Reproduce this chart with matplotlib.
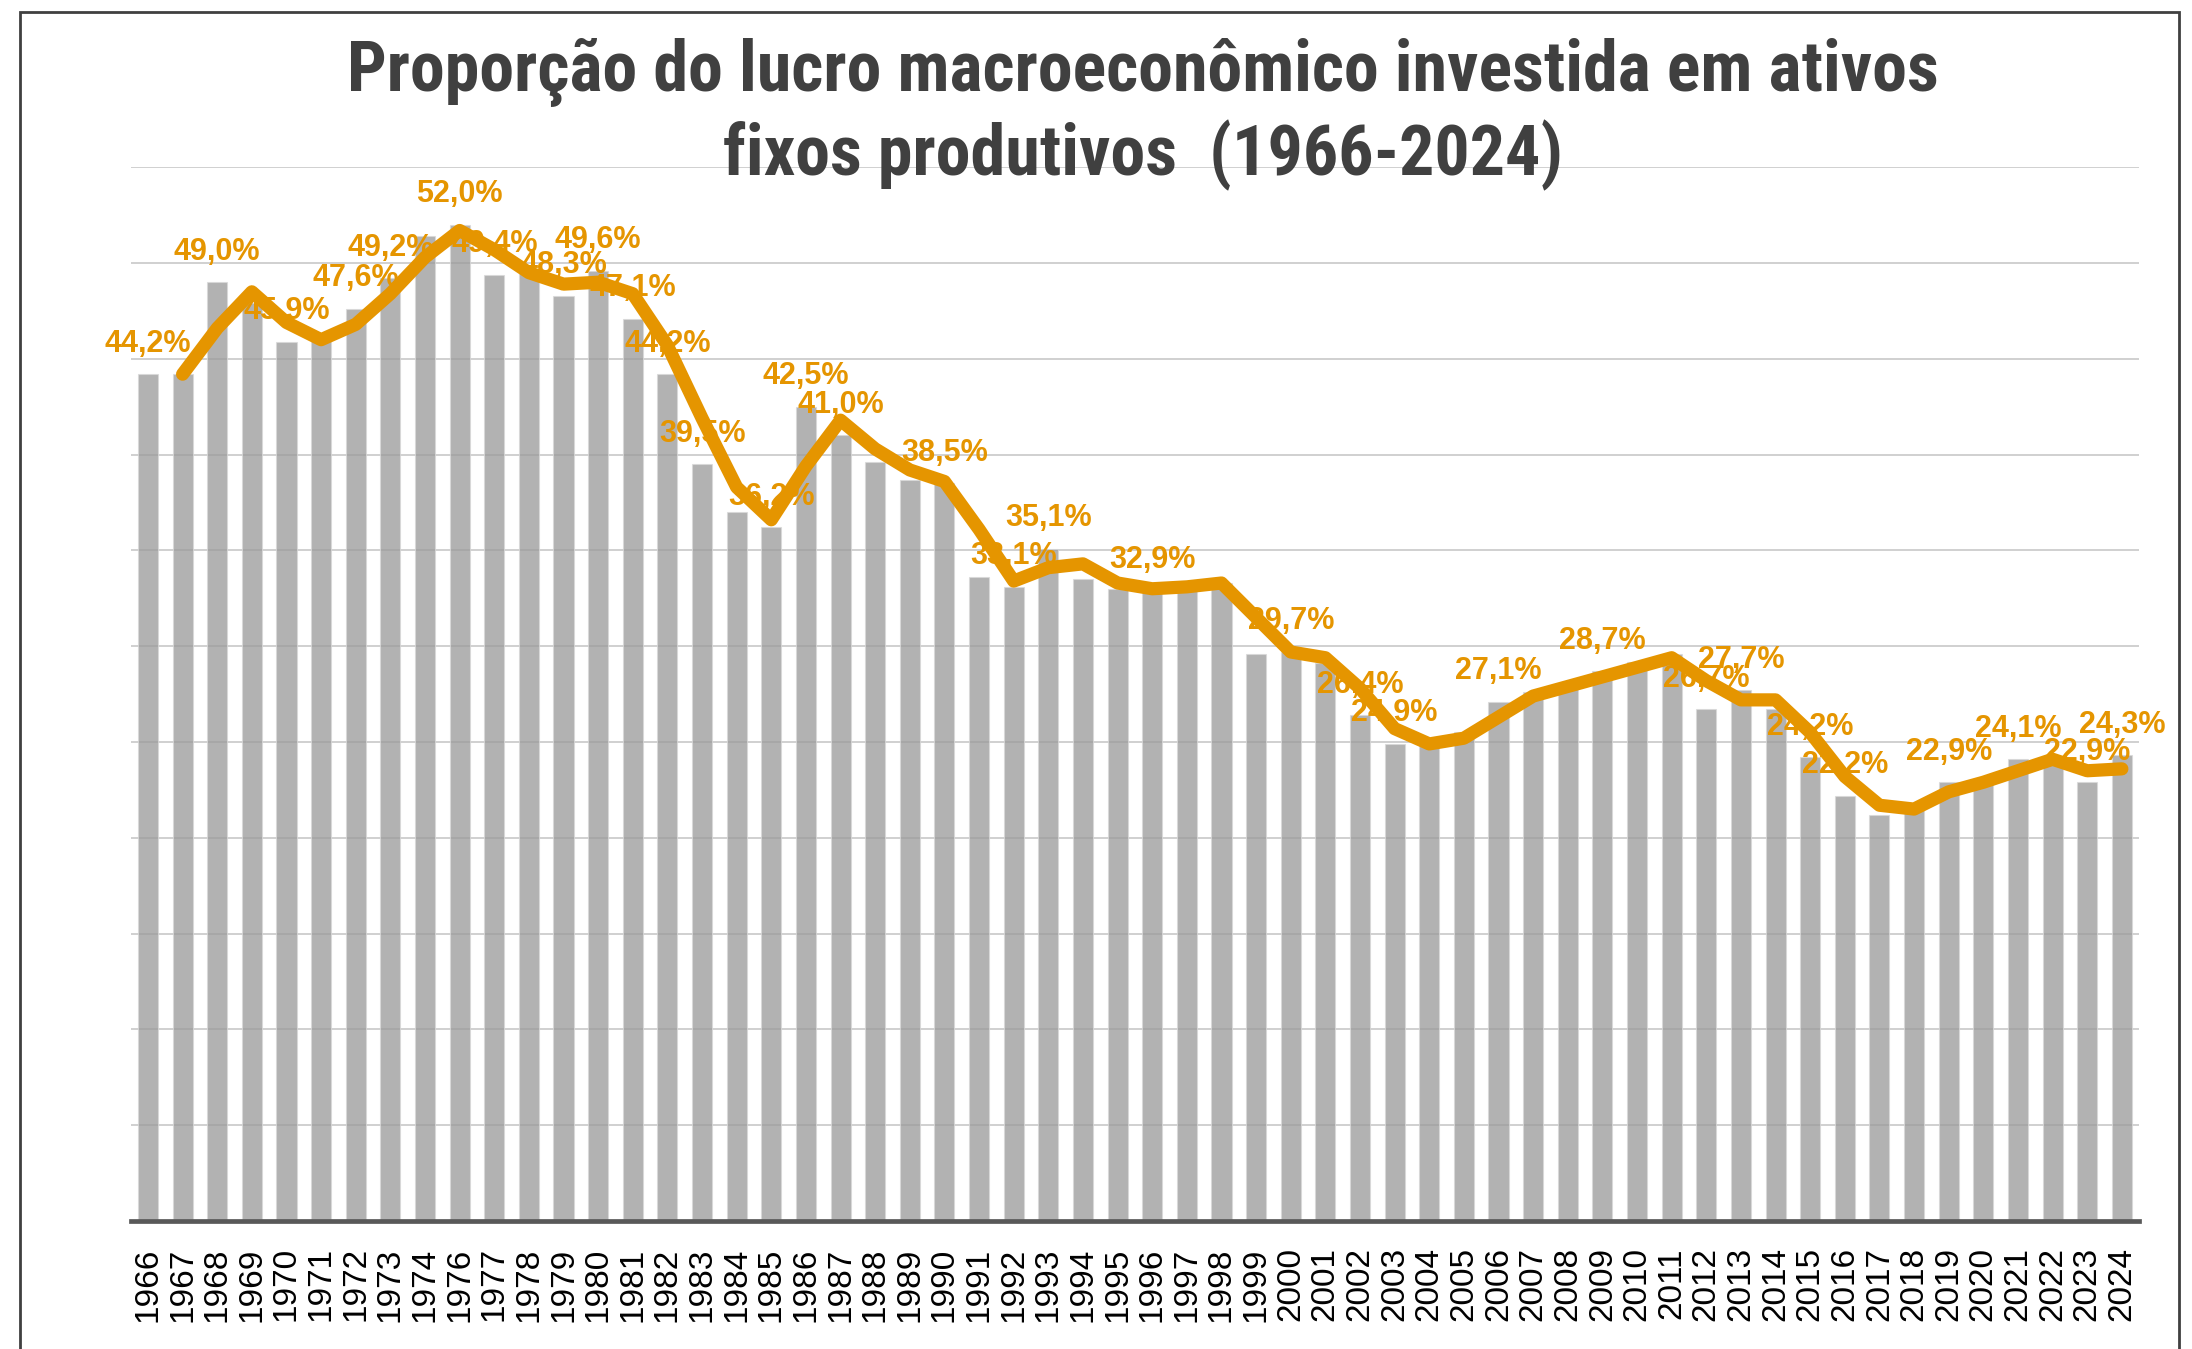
import matplotlib
matplotlib.use('Agg')
import matplotlib.pyplot as plt
from matplotlib import font_manager
from matplotlib.patches import Rectangle

# Anos (o eixo original pula 1975)
years = list(range(1966, 1975)) + list(range(1976, 2025))

# Proporção anual (%) - barras
share = [44.2, 44.2, 49.0, 47.9, 45.9, 46.0, 47.6, 49.2, 51.4,
         52.0, 49.4, 49.5, 48.3, 49.6, 47.1, 44.2, 39.5, 37.0, 36.2,
         42.5, 41.0, 39.6, 38.7, 38.5, 33.6, 33.1, 35.1, 33.5, 33.0,
         32.9, 33.2, 33.3, 29.6, 29.7, 29.1, 26.4, 24.9, 24.8, 25.5,
         27.1, 27.6, 28.1, 28.7, 29.2, 29.6, 26.7, 27.7, 26.7, 24.2,
         22.2, 21.2, 21.8, 22.9, 22.8, 24.1, 24.0, 22.9, 24.3]

# Média móvel de 2 períodos, de 1967 em diante
trend = [44.2, 46.6, 48.5, 46.9, 46.0, 46.8, 48.4, 50.3,
         51.7, 50.7, 49.5, 48.9, 49.0, 48.4, 45.7, 41.9, 38.3, 36.6,
         39.4, 41.8, 40.3, 39.2, 38.6, 36.1, 33.4, 34.1, 34.3, 33.3,
         33.0, 33.1, 33.3, 31.5, 29.7, 29.4, 27.8, 25.7, 24.9, 25.2,
         26.3, 27.4, 27.9, 28.4, 28.9, 29.4, 28.2, 27.2, 27.2, 25.5,
         23.2, 21.7, 21.5, 22.4, 22.9, 23.5, 24.1, 23.5, 23.6]

# Anos com rótulo de dado
label_years = [1966, 1968, 1970, 1972, 1973, 1976, 1977, 1979, 1980, 1981,
               1982, 1983, 1985, 1986, 1987, 1990, 1992, 1993, 1996, 2000,
               2002, 2003, 2006, 2009, 2012, 2013, 2015, 2016, 2019, 2021,
               2023, 2024]

title_lines = ['Proporção do lucro macroeconômico investida em ativos',
               'fixos produtivos  (1966-2024)']

orange = '#E59500'
dark = '#404040'

# fonte condensada para o título, se existir
title_font = None
for fam, stretch in [('Liberation Sans Narrow', 'normal'), ('Roboto Condensed', 'normal'),
                     ('Roboto', 'condensed'), ('Noto Sans', 'condensed'),
                     ('DejaVu Sans', 'condensed'), ('Open Sans', 'condensed')]:
    try:
        fp = font_manager.FontProperties(family=fam, stretch=stretch, weight='bold')
        path = font_manager.findfont(fp, fallback_to_default=False)
    except Exception:
        continue
    if 'narrow' in path.lower() or 'condensed' in path.lower():
        title_font = fp
        break
if title_font is None:
    title_font = font_manager.FontProperties(family='Liberation Sans', weight='bold')

plt.rcParams['font.family'] = ['Liberation Sans', 'DejaVu Sans']

fig = plt.figure(figsize=(21.92, 13.49), dpi=100)
ax = fig.add_axes([0.0596, 0.0949, 0.9163, 0.7811])

x = list(range(len(years)))
ax.bar(x, share, width=0.58, color='#999999', alpha=0.75,
       edgecolor='#d9d9d9', linewidth=0.8, zorder=2)
ax.plot(x[1:], trend, color=orange, lw=9.5, solid_capstyle='round',
        solid_joinstyle='round', zorder=5)

for yr in label_years:
    i = years.index(yr)
    v = share[i]
    ax.annotate(f'{v:.1f}%'.replace('.', ','), (i, v), xytext=(0, 22),
                textcoords='offset points', ha='center', va='center',
                fontsize=22, fontweight='bold', color=orange, zorder=4)

ax.set_xlim(-0.5, len(years) - 0.5)
ax.set_ylim(0, 55)
ax.set_yticks(range(0, 56, 5))
ax.set_yticklabels([])
ax.set_xticks(x)
ax.set_xticklabels([str(y) for y in years], rotation=90, fontsize=24, color='black')
ax.tick_params(axis='both', length=0)
ax.tick_params(axis='x', pad=19)
ax.grid(axis='y', color='#d0d0d0', lw=1.4)
ax.set_axisbelow(True)
for s in ['left', 'right', 'top']:
    ax.spines[s].set_visible(False)
ax.spines['bottom'].set_color('#595959')
ax.spines['bottom'].set_linewidth(3.4)
ax.spines['bottom'].set_zorder(6)

# título em duas linhas, ajustado à largura do original
t1 = fig.text(0.5215, 1 - 91 / 1349, title_lines[0], ha='center', va='baseline',
              fontproperties=title_font, fontsize=46, color=dark)
t2 = fig.text(0.5215, 1 - 175 / 1349, title_lines[1], ha='center', va='baseline',
              fontproperties=title_font, fontsize=46, color=dark)
fig.canvas.draw()
w = t1.get_window_extent(fig.canvas.get_renderer()).width
size = 46 * 1592 / w
t1.set_fontsize(size)
t2.set_fontsize(size)

# moldura
fig.patches.append(Rectangle((20 / 2192, -0.02), 2159 / 2192, 1 - 12 / 1349 + 0.02,
                             transform=fig.transFigure, fill=False,
                             edgecolor=dark, lw=2, zorder=10))

fig.savefig('out.png', dpi=100)
